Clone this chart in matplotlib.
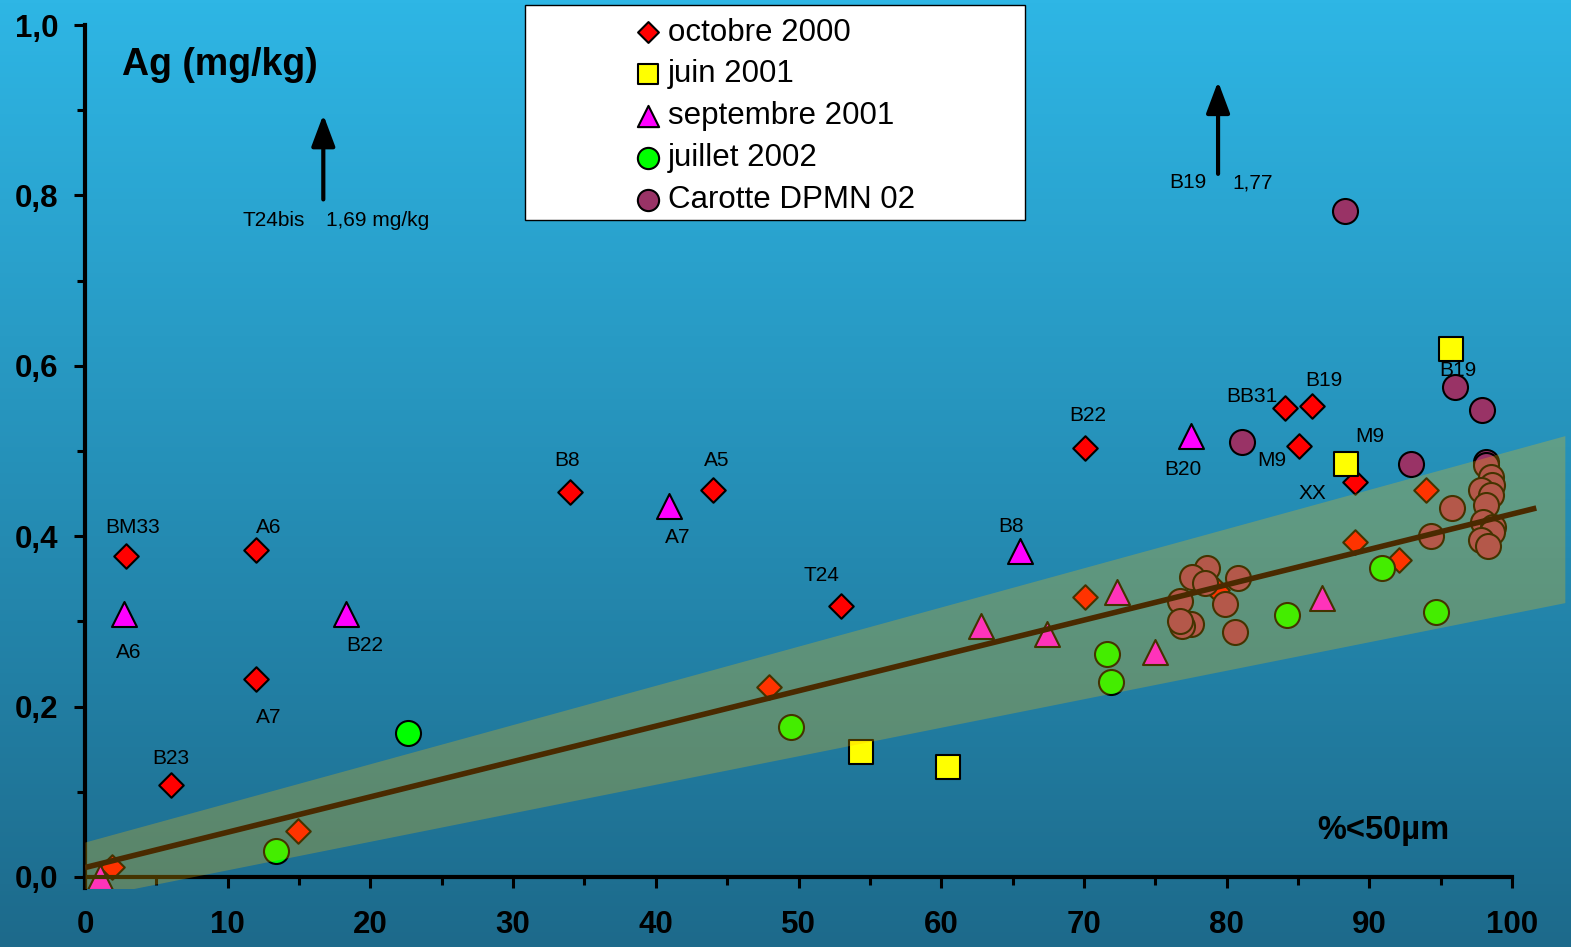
import matplotlib.pyplot as plt
import numpy as np
from matplotlib.patches import Rectangle

plt.rcParams['font.family'] = ['Liberation Sans', 'DejaVu Sans']

# octobre 2000 (red diamonds)
oct_x = [2.9, 12.0, 12.0, 6.0, 34.0, 44.0, 53.0, 70.1, 84.1, 86.0, 85.05, 89.0,
         1.9, 14.9, 47.95, 70.1, 79.3, 89.0, 92.1, 94.0]
oct_y = [0.377, 0.384, 0.232, 0.108, 0.452, 0.454, 0.318, 0.504, 0.551, 0.553, 0.506, 0.463,
         0.012, 0.054, 0.223, 0.328, 0.337, 0.393, 0.372, 0.454]

# juin 2001 (yellow squares)
jun_x = [54.4, 60.5, 88.4, 95.7]
jun_y = [0.147, 0.129, 0.485, 0.620]

# septembre 2001 (magenta triangles)
sep_x = [2.75, 18.3, 40.9, 65.5, 77.5, 1.05, 62.8, 67.4, 72.3, 75.0, 86.7]
sep_y = [0.309, 0.309, 0.435, 0.383, 0.517, 0.0, 0.294, 0.285, 0.334, 0.264, 0.327]

# juillet 2002 (green circles)
jul_x = [22.6, 13.4, 49.5, 71.6, 71.9, 84.2, 90.9, 94.7]
jul_y = [0.169, 0.030, 0.176, 0.262, 0.229, 0.307, 0.363, 0.311]

# Carotte DPMN 02 (purple circles)
car_x = [88.3, 81.1, 92.9, 96.0, 97.9, 98.2,
         78.6, 77.6, 80.8, 78.5, 76.7, 79.9, 77.5, 76.9, 76.7, 80.6,
         98.2, 98.5, 98.6, 97.8, 98.5, 98.2, 95.8, 98.0, 98.7, 98.6, 94.3, 97.8, 98.3]
car_y = [0.782, 0.510, 0.485, 0.575, 0.548, 0.487,
         0.363, 0.352, 0.351, 0.345, 0.324, 0.320, 0.297, 0.294, 0.300, 0.288,
         0.484, 0.470, 0.460, 0.454, 0.448, 0.437, 0.433, 0.417, 0.411, 0.405, 0.400, 0.396, 0.388]

# regression line and band
fit_x = [0, 101.7]
fit_y = [0.011, 0.433]
band_x = [0, 103.7]
band_lo = [-0.025, 0.322]
band_hi = [0.041, 0.518]

# station labels
lab_txt = ['BM33', 'A6', 'A6', 'B22', 'A7', 'B23', 'B8', 'A5', 'A7', 'T24', 'B8',
           'B22', 'B20', 'BB31', 'B19', 'M9', 'XX', 'M9', 'B19']
lab_x = [3.34, 12.9, 3.08, 19.6, 12.9, 6.0, 33.8, 44.3, 41.5, 51.6, 64.9,
         70.3, 76.9, 81.8, 86.8, 83.2, 86.0, 90.0, 96.2]
lab_y = [0.410, 0.410, 0.264, 0.272, 0.187, 0.139, 0.489, 0.489, 0.399, 0.354, 0.411,
         0.542, 0.478, 0.564, 0.583, 0.489, 0.450, 0.517, 0.594]

x_ticks = [0, 10, 20, 30, 40, 50, 60, 70, 80, 90, 100]
y_ticks = [0.0, 0.2, 0.4, 0.6, 0.8, 1.0]
y_tick_labels = ['0,0', '0,2', '0,4', '0,6', '0,8', '1,0']

fig = plt.figure(figsize=(15.71, 9.47), dpi=100)

# background gradient
bg = fig.add_axes([0, 0, 1, 1], zorder=-10)
top = np.array([46, 182, 229]) / 255
bot = np.array([29, 106, 139]) / 255
t = np.linspace(0, 1, 256)[:, None]
grad = top[None, :] * (1 - t) + bot[None, :] * t
bg.imshow(grad[:, None, :], aspect='auto', extent=[0, 1, 0, 1])
bg.axis('off')

ax = fig.add_axes([0.0541, 0.0623, 0.9447, 0.9113])
ax.set_facecolor('none')
ax.set_xlim(0, 104)
ax.set_ylim(-0.013, 1.0)

edge = dict(edgecolors='black', linewidths=1.5, zorder=2)
s_oct = ax.scatter(oct_x, oct_y, s=156, marker='D', c='#FF0000', label='octobre 2000', **edge)
s_jun = ax.scatter(jun_x, jun_y, s=300, marker='s', c='#FFFF00', label='juin 2001', **edge)
s_sep = ax.scatter(sep_x, sep_y, s=324, marker='^', c='#FF00FF', label='septembre 2001', **edge)
s_jul = ax.scatter(jul_x, jul_y, s=324, marker='o', c='#00FF00', label='juillet 2002', **edge)
s_car = ax.scatter(car_x, car_y, s=324, marker='o', c='#993366', label='Carotte DPMN 02', **edge)

# band drawn over the markers, as in the original
ax.fill_between(band_x, band_lo, band_hi, color='#FFBF00', alpha=0.27, lw=0, zorder=3)
ax.plot(fit_x, fit_y, color='#4A2A00', lw=4, zorder=4, solid_capstyle='butt')

for txt, x, y in zip(lab_txt, lab_x, lab_y):
    ax.text(x, y, txt, fontsize=15, ha='center', va='center')

# off-scale values
arrow = dict(arrowstyle='-|>,head_width=0.3,head_length=0.8', lw=3, color='black', mutation_scale=24)
ax.annotate('', xy=(16.7, 0.898), xytext=(16.7, 0.792), arrowprops=arrow)
ax.annotate('', xy=(79.4, 0.937), xytext=(79.4, 0.822), arrowprops=arrow)
ax.text(13.25, 0.771, 'T24bis', fontsize=15, ha='center', va='center')
ax.text(20.5, 0.771, '1,69 mg/kg', fontsize=15, ha='center', va='center')
ax.text(77.3, 0.815, 'B19', fontsize=15, ha='center', va='center')
ax.text(81.8, 0.815, '1,77', fontsize=15, ha='center', va='center')

ax.text(9.43, 0.953, 'Ag (mg/kg)', fontsize=27, fontweight='bold', ha='center', va='center')
ax.text(91.0, 0.055, '%<50µm', fontsize=23.5, fontweight='bold', ha='center', va='center')

# axes
for side in ['top', 'right']:
    ax.spines[side].set_visible(False)
ax.spines['left'].set_linewidth(3)
ax.spines['bottom'].set_linewidth(3)
ax.spines['bottom'].set_position(('data', 0))
ax.spines['bottom'].set_bounds(0, 100)

ax.set_xticks(x_ticks)
ax.set_xticklabels([str(v) for v in x_ticks], fontweight='bold')
ax.set_yticks(y_ticks)
ax.set_yticklabels(y_tick_labels, fontweight='bold')
ax.set_xticks(np.arange(5, 100, 10), minor=True)
ax.set_yticks(np.arange(0.1, 1.0, 0.2), minor=True)
ax.tick_params(which='major', length=8, width=2.2, labelsize=22.5, direction='out')
ax.tick_params(which='minor', length=6, width=2.2, direction='out')
ax.tick_params(axis='x', which='major', pad=16)
ax.tick_params(axis='y', which='major', pad=11)

# legend
box = Rectangle((0.3342, 0.7677), 0.3183, 0.2270, transform=fig.transFigure,
                facecolor='white', edgecolor='black', lw=1, zorder=20)
fig.patches.append(box)
leg = fig.legend(handles=[s_oct, s_jun, s_sep, s_jul, s_car], loc='center',
                 bbox_to_anchor=(0.4933, 0.8772), frameon=False, fontsize=22.5,
                 markerscale=0.85, handlelength=0.8, handletextpad=0.25,
                 labelspacing=0.38, borderpad=0)
leg.set_zorder(21)

fig.savefig('out.png', dpi=100)
